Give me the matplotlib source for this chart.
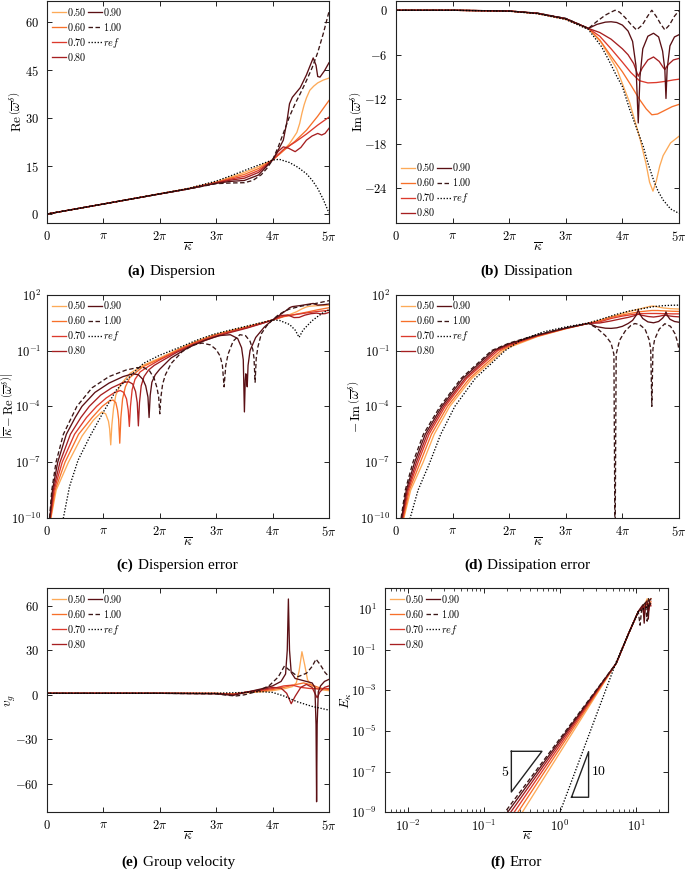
import numpy as np
import matplotlib
matplotlib.use("Agg")
import matplotlib.pyplot as plt
from matplotlib.ticker import FixedLocator, NullLocator, NullFormatter, LogLocator

plt.rcParams['mathtext.fontset'] = 'cm'
plt.rcParams['font.family'] = ['Liberation Serif', 'DejaVu Serif']
plt.rcParams['axes.linewidth'] = 0.8

# ---------------- data ----------------
SCHEMES = ['0.50', '0.60', '0.70', '0.80', '0.90', '1.00']
COLORS = ['#fdaa58', '#f7702a', '#dc3a2c', '#a61f21', '#5a0f14', '#3a1616']
PI_TICKS = [0, 1, 2, 3, 4, 5]
PI_LABELS = ['$0$', r'$\pi$', r'$2\pi$', r'$3\pi$', r'$4\pi$', r'$5\pi$']

# (a) Re(omega), x in units of pi
A_X_050 = [0, 1, 2, 2.5, 3, 3.25, 3.5, 3.75, 4, 4.15, 4.3, 4.43, 4.48, 4.52, 4.56, 4.6, 4.66, 4.73, 4.8, 4.9, 5]
A_Y_050 = [0, 3.14, 6.33, 7.95, 10.0, 11.5, 13.0, 14.8, 16.9, 19.2, 22.0, 25.5, 28.3, 31.5, 34.2, 36.3, 38.7, 40.0, 41.0, 41.9, 42.5]
A_X_060 = [0, 1, 2, 2.5, 3, 3.25, 3.5, 3.75, 4, 4.2, 4.4, 4.6, 4.8, 5]
A_Y_060 = [0, 3.14, 6.31, 7.9, 9.9, 11.2, 12.4, 14.2, 16.9, 19.9, 22.8, 26.2, 30.6, 35.5]
A_X_070 = [0, 1, 2, 2.5, 3, 3.25, 3.5, 3.75, 4, 4.2, 4.4, 4.6, 4.8, 5]
A_Y_070 = [0, 3.14, 6.3, 7.87, 9.8, 10.9, 11.8, 13.6, 16.9, 20.3, 22.5, 25.0, 27.8, 30.3]
A_X_080 = [0, 1, 2, 2.5, 3, 3.25, 3.5, 3.75, 4, 4.1, 4.19, 4.28, 4.4, 4.5, 4.6, 4.7, 4.8, 4.87, 4.93, 5]
A_Y_080 = [0, 3.14, 6.29, 7.85, 9.7, 10.6, 11.2, 13.0, 16.9, 19.6, 21.0, 20.6, 19.5, 20.8, 23.1, 24.4, 25.2, 24.7, 25.2, 26.8]
A_X_090 = [0, 1, 2, 2.5, 3, 3.25, 3.5, 3.75, 4, 4.1, 4.19, 4.25, 4.3, 4.35, 4.49, 4.6, 4.72, 4.77, 4.8, 4.84, 4.92, 5]
A_Y_090 = [0, 3.14, 6.28, 7.83, 9.6, 10.2, 10.5, 12.2, 16.9, 20.0, 23.1, 28.5, 34.5, 36.5, 39.5, 43.5, 48.8, 46.5, 43.0, 42.8, 44.8, 47.3]
A_X_100 = [0, 1, 2, 2.5, 3, 3.25, 3.5, 3.65, 3.8, 3.9, 4, 4.1, 4.2, 4.3, 4.4, 4.5, 4.6, 4.7, 4.8, 4.9, 5]
A_Y_100 = [0, 3.14, 6.28, 7.8, 9.5, 9.7, 9.8, 10.5, 12.3, 14.3, 16.9, 21.0, 25.7, 30.5, 34.5, 38.0, 41.7, 45.7, 50.5, 56.5, 63.3]
A_X_REF = [0, 1, 2, 2.5, 3, 3.25, 3.5, 3.75, 4, 4.12, 4.3, 4.45, 4.6, 4.7, 4.8, 4.9, 5]
A_Y_REF = [0, 3.14, 6.35, 8.0, 10.3, 11.9, 13.6, 15.3, 16.9, 17.1, 16.1, 14.6, 12.6, 10.6, 8.0, 4.5, 0.3]

# (b) Im(omega)
B_X_050 = [0, 1, 2, 2.5, 3, 3.4, 3.63, 3.9, 4.13, 4.31, 4.42, 4.48, 4.54, 4.6, 4.66, 4.72, 4.85, 5]
B_Y_050 = [0, 0, -0.12, -0.44, -1.2, -2.45, -4.4, -7.9, -12.5, -17.3, -20.8, -23.2, -24.4, -23.0, -21.0, -19.6, -17.9, -17.0]
B_X_060 = [0, 1, 2, 2.5, 3, 3.4, 3.6, 3.8, 4.0, 4.15, 4.3, 4.42, 4.52, 4.62, 4.75, 4.88, 5]
B_Y_060 = [0, 0, -0.11, -0.43, -1.18, -2.45, -4.0, -6.2, -8.3, -10.1, -12.0, -13.3, -14.1, -14.0, -13.5, -13.0, -12.7]
B_X_070 = [0, 1, 2, 2.5, 3, 3.4, 3.6, 3.8, 4.0, 4.15, 4.3, 4.45, 4.6, 4.75, 4.9, 5]
B_Y_070 = [0, 0, -0.1, -0.42, -1.16, -2.45, -3.5, -5.2, -7.0, -8.4, -9.5, -9.8, -9.75, -9.6, -9.4, -9.3]
B_X_080 = [0, 1, 2, 2.5, 3, 3.4, 3.6, 3.8, 4.0, 4.1, 4.2, 4.28, 4.35, 4.45, 4.55, 4.65, 4.72, 4.75, 4.8, 4.9, 5]
B_Y_080 = [0, 0, -0.1, -0.41, -1.14, -2.45, -3.0, -3.9, -5.2, -6.0, -7.2, -8.9, -7.8, -6.7, -6.3, -6.9, -7.7, -8.0, -7.4, -6.7, -6.5]
B_X_090 = [0, 1, 2, 2.5, 3, 3.4, 3.55, 3.7, 3.8, 3.9, 4.0, 4.1, 4.18, 4.24, 4.28, 4.31, 4.36, 4.45, 4.55, 4.64, 4.71, 4.75, 4.77, 4.79, 4.84, 4.92, 5]
B_Y_090 = [0, 0, -0.1, -0.4, -1.12, -2.45, -1.9, -1.6, -1.55, -1.65, -2.0, -2.8, -4.2, -7.5, -15.2, -9.0, -5.2, -3.5, -3.1, -3.6, -5.5, -8.0, -11.9, -8.0, -4.8, -3.6, -3.3]
B_X_100 = [0, 1, 2, 2.5, 3, 3.4, 3.55, 3.7, 3.8, 3.87, 3.95, 4.05, 4.15, 4.25, 4.35, 4.45, 4.52, 4.6, 4.68, 4.75, 4.83, 4.92, 5]
B_Y_100 = [0, 0, -0.1, -0.39, -1.1, -2.45, -1.5, -0.65, -0.25, 0, -0.25, -1.0, -1.9, -2.65, -2.0, -0.75, 0, -0.85, -1.9, -2.65, -2.0, -0.8, -0.05]
B_X_REF = [0, 1, 2, 2.5, 3, 3.4, 3.5, 3.63, 3.75, 3.9, 4.0, 4.13, 4.25, 4.37, 4.45, 4.55, 4.63, 4.72, 4.85, 5]
B_Y_REF = [0, 0, -0.13, -0.47, -1.25, -2.6, -3.6, -4.9, -6.6, -8.9, -10.3, -13.4, -15.9, -18.4, -20.6, -22.9, -24.4, -25.6, -26.8, -27.4]

# (c) dispersion error, log10 values
C_X_050 = [0.042, 0.07, 0.163, 0.38, 0.62, 0.82, 0.97, 1.04, 1.09, 1.11, 1.13, 1.15, 1.18, 1.22, 1.3, 1.47, 1.7, 2.0, 2.36, 2.65, 2.95, 3.25, 3.54, 3.8, 4.0, 4.15, 4.3, 4.43, 4.52, 4.6, 4.66, 4.8, 5]
C_L_050 = [-11.5, -10, -8.5, -7, -5.6, -4.75, -4.3, -4.4, -4.8, -5.2, -6.07, -5.0, -4.1, -3.4, -2.85, -2.23, -1.8, -1.4, -0.88, -0.5, -0.17, 0.07, 0.28, 0.48, 0.64, 0.80, 0.93, 1.09, 1.24, 1.34, 1.38, 1.41, 1.43]
C_X_060 = [0.039, 0.065, 0.144, 0.32, 0.56, 0.8, 0.98, 1.1, 1.17, 1.22, 1.25, 1.27, 1.29, 1.31, 1.34, 1.39, 1.47, 1.7, 2.0, 2.36, 2.65, 2.95, 3.25, 3.54, 3.8, 4.0, 4.2, 4.4, 4.6, 4.8, 5]
C_L_060 = [-11.5, -10, -8.5, -7, -5.5, -4.6, -4.0, -3.72, -3.66, -3.8, -4.2, -4.7, -5.98, -4.6, -3.6, -2.95, -2.45, -1.87, -1.45, -0.92, -0.53, -0.2, 0.04, 0.26, 0.47, 0.64, 0.82, 0.94, 1.06, 1.19, 1.30]
C_X_070 = [0.036, 0.06, 0.127, 0.27, 0.488, 0.7, 0.88, 1.05, 1.2, 1.3, 1.36, 1.41, 1.44, 1.46, 1.48, 1.51, 1.56, 1.65, 1.8, 2.0, 2.36, 2.65, 2.95, 3.25, 3.54, 3.8, 4.0, 4.2, 4.4, 4.6, 4.8, 5]
C_L_070 = [-11.5, -10, -8.5, -7, -5.5, -4.6, -4.0, -3.55, -3.25, -3.15, -3.25, -3.6, -4.2, -5.08, -4.0, -3.1, -2.55, -2.15, -1.85, -1.5, -0.96, -0.57, -0.24, 0.01, 0.23, 0.45, 0.64, 0.85, 0.93, 1.02, 1.10, 1.16]
C_X_080 = [0.033, 0.055, 0.112, 0.23, 0.415, 0.6, 0.75, 0.95, 1.15, 1.35, 1.45, 1.52, 1.57, 1.6, 1.62, 1.64, 1.67, 1.72, 1.8, 1.9, 2.0, 2.3, 2.6, 2.95, 3.25, 3.54, 3.8, 4.0, 4.15, 4.27, 4.38, 4.47, 4.57, 4.68, 4.78, 4.86, 4.93, 5]
C_L_080 = [-11.5, -10, -8.5, -7, -5.5, -4.6, -4.0, -3.4, -3.0, -2.72, -2.68, -2.8, -3.2, -3.8, -5.05, -3.8, -2.9, -2.4, -2.05, -1.8, -1.62, -1.1, -0.68, -0.3, -0.03, 0.2, 0.44, 0.64, 0.88, 0.91, 0.77, 0.78, 0.90, 0.98, 1.01, 0.97, 0.98, 1.05]
C_X_090 = [0.03, 0.05, 0.097, 0.19, 0.343, 0.5, 0.62, 0.85, 1.1, 1.35, 1.52, 1.62, 1.7, 1.75, 1.79, 1.81, 1.83, 1.86, 1.92, 2.0, 2.2, 2.5, 2.8, 3.05, 3.25, 3.38, 3.45, 3.48, 3.5, 3.515, 3.525, 3.537, 3.55, 3.565, 3.6, 3.7, 3.85, 4.0, 4.1, 4.2, 4.25, 4.3, 4.35, 4.5, 4.72, 4.8, 4.9, 5]
C_L_090 = [-11.5, -10, -8.5, -7, -5.5, -4.6, -4.0, -3.25, -2.75, -2.4, -2.25, -2.3, -2.55, -2.9, -3.5, -4.6, -3.4, -2.7, -2.3, -2.0, -1.4, -0.85, -0.45, -0.2, -0.15, -0.35, -0.85, -1.5, -4.3, -2.6, -2.25, -2.5, -2.95, -1.8, -1.0, -0.3, 0.25, 0.65, 0.85, 1.07, 1.17, 1.30, 1.36, 1.42, 1.53, 1.44, 1.46, 1.50]
C_X_100 = [0.027, 0.045, 0.085, 0.16, 0.29, 0.53, 0.8, 1.1, 1.4, 1.6, 1.72, 1.82, 1.9, 1.95, 1.98, 2.0, 2.02, 2.05, 2.1, 2.2, 2.4, 2.6, 2.75, 2.9, 3.0, 3.07, 3.11, 3.14, 3.17, 3.21, 3.3, 3.42, 3.52, 3.6, 3.65, 3.67, 3.69, 3.71, 3.74, 3.8, 3.9, 4.0, 4.1, 4.2, 4.3, 4.5, 4.75, 5]
C_L_100 = [-11.5, -10, -8.5, -7, -5.5, -4, -3.0, -2.4, -2.05, -1.92, -1.92, -2.1, -2.5, -3.0, -3.5, -4.4, -3.5, -2.8, -2.3, -1.7, -1.05, -0.7, -0.6, -0.7, -0.95, -1.3, -1.8, -2.95, -1.8, -1.2, -0.5, -0.15, -0.2, -0.5, -0.95, -1.4, -2.7, -1.4, -0.8, -0.1, 0.35, 0.65, 0.91, 1.09, 1.23, 1.38, 1.52, 1.68]
C_X_REF = [0.2, 0.29, 0.4, 0.55, 0.76, 1.0, 1.23, 1.5, 1.71, 2.0, 2.36, 2.65, 2.95, 3.25, 3.54, 3.8, 4.0, 4.12, 4.3, 4.4, 4.47, 4.54, 4.6, 4.7, 4.8, 4.9, 5]
C_L_REF = [-11.3, -10, -8.3, -6.9, -5.62, -4.3, -3.12, -2.3, -1.69, -1.25, -0.82, -0.45, -0.13, 0.1, 0.31, 0.5, 0.64, 0.62, 0.40, 0.1, -0.29, 0.1, 0.29, 0.6, 0.83, 1.04, 1.19]

# (d) dissipation error, log10 values
D_X_050 = [0.094, 0.14, 0.26, 0.48, 0.675, 0.95, 1.34, 1.90, 2.0, 2.5, 3.0, 3.4, 3.63, 3.9, 4.13, 4.31, 4.42, 4.48, 4.54, 4.6, 4.66, 4.72, 4.85, 5]
D_L_050 = [-11.5, -10, -8.5, -7, -5.5, -4, -2.5, -1, -0.83, -0.25, 0.17, 0.46, 0.64, 0.90, 1.10, 1.24, 1.32, 1.37, 1.39, 1.36, 1.32, 1.29, 1.25, 1.23]
D_X_060 = [0.087, 0.13, 0.236, 0.43, 0.626, 0.91, 1.30, 1.85, 2.0, 2.5, 3.0, 3.4, 3.6, 3.8, 4.0, 4.15, 4.3, 4.42, 4.52, 4.62, 4.75, 4.88, 5]
D_L_060 = [-11.5, -10, -8.5, -7, -5.5, -4, -2.5, -1, -0.77, -0.23, 0.18, 0.46, 0.60, 0.79, 0.91, 1.0, 1.08, 1.12, 1.15, 1.15, 1.13, 1.11, 1.10]
D_X_070 = [0.08, 0.12, 0.216, 0.39, 0.583, 0.87, 1.25, 1.80, 2.0, 2.5, 3.0, 3.4, 3.6, 3.8, 4.0, 4.15, 4.3, 4.45, 4.6, 4.75, 4.9, 5]
D_L_070 = [-11.5, -10, -8.5, -7, -5.5, -4, -2.5, -1, -0.72, -0.21, 0.19, 0.46, 0.54, 0.72, 0.85, 0.92, 0.98, 0.99, 0.99, 0.98, 0.97, 0.97]
D_X_080 = [0.073, 0.11, 0.20, 0.36, 0.55, 0.84, 1.22, 1.76, 2.0, 2.5, 3.0, 3.4, 3.6, 3.8, 4.0, 4.1, 4.2, 4.28, 4.35, 4.45, 4.55, 4.65, 4.72, 4.75, 4.8, 4.9, 5]
D_L_080 = [-11.5, -10, -8.5, -7, -5.5, -4, -2.5, -1, -0.67, -0.19, 0.2, 0.46, 0.48, 0.59, 0.72, 0.78, 0.86, 0.95, 0.89, 0.83, 0.80, 0.84, 0.89, 0.90, 0.87, 0.83, 0.81]
D_X_090 = [0.066, 0.10, 0.182, 0.33, 0.517, 0.81, 1.18, 1.72, 2.0, 2.5, 3.0, 3.4, 3.55, 3.7, 3.8, 3.9, 4.0, 4.1, 4.18, 4.24, 4.28, 4.31, 4.36, 4.45, 4.55, 4.64, 4.71, 4.75, 4.77, 4.79, 4.84, 4.92, 5]
D_L_090 = [-11.5, -10, -8.5, -7, -5.5, -4, -2.5, -1, -0.63, -0.17, 0.21, 0.46, 0.28, 0.2, 0.19, 0.22, 0.3, 0.45, 0.62, 0.88, 1.18, 0.95, 0.72, 0.54, 0.49, 0.56, 0.74, 0.9, 1.08, 0.9, 0.68, 0.56, 0.52]
D_X_100 = [0.06, 0.09, 0.164, 0.30, 0.484, 0.78, 1.15, 1.69, 2.0, 2.5, 3.0, 3.4, 3.55, 3.7, 3.8, 3.85, 3.87, 3.89, 3.95, 4.05, 4.15, 4.22, 4.3, 4.4, 4.47, 4.5, 4.52, 4.54, 4.57, 4.65, 4.75, 4.85, 4.93, 4.98, 5.0]
D_L_100 = [-11.5, -10, -8.5, -7, -5.5, -4, -2.5, -1, -0.6, -0.15, 0.22, 0.46, 0.2, -0.2, -0.6, -1.2, -12, -1.2, -0.45, 0.05, 0.35, 0.45, 0.4, 0.15, -0.4, -0.9, -4.0, -0.9, -0.4, 0.15, 0.44, 0.3, -0.1, -0.6, -1.0]
D_X_REF = [0.17, 0.25, 0.39, 0.60, 0.79, 1.04, 1.40, 1.93, 2.2, 2.6, 3.0, 3.4, 3.63, 3.9, 4.13, 4.37, 4.55, 4.72, 4.85, 5]
D_L_REF = [-11.5, -10, -8.5, -7, -5.5, -4, -2.5, -1, -0.45, 0.0, 0.27, 0.48, 0.69, 0.95, 1.13, 1.26, 1.36, 1.41, 1.43, 1.44]

# (e) group velocity
E_X_050 = [0, 1, 2, 3, 3.3, 3.5, 3.8, 4.0, 4.2, 4.35, 4.42, 4.47, 4.52, 4.57, 4.62, 4.7, 4.8, 4.9, 5]
E_Y_050 = [1, 1, 1, 1.0, 0.7, 1.3, 2.0, 2.8, 4.0, 5.5, 8.0, 16, 29, 20, 10, 6, 4, 3.2, 2.8]
E_X_060 = [0, 1, 2, 3, 3.3, 3.5, 3.8, 4.0, 4.2, 4.4, 4.55, 4.7, 4.85, 5]
E_Y_060 = [1, 1, 1, 0.95, 0.5, 1.5, 2.5, 3.5, 5, 6.8, 8, 6.5, 4.5, 3.5]
E_X_070 = [0, 1, 2, 3, 3.3, 3.5, 3.8, 4.0, 4.2, 4.35, 4.5, 4.65, 4.8, 5]
E_Y_070 = [1, 1, 1, 0.9, 0.3, 1.6, 3, 4.2, 6, 6.5, 5, 4.3, 4, 4.2]
E_X_080 = [0, 1, 2, 3, 3.3, 3.5, 3.8, 4.0, 4.15, 4.25, 4.33, 4.4, 4.5, 4.6, 4.7, 4.75, 4.79, 4.84, 4.92, 5]
E_Y_080 = [1, 1, 1, 0.85, 0.0, 1.6, 3.5, 5.0, 4.5, 1.0, -6, -1, 5, 7, 5, 1, -2, 2, 5, 6]
E_X_090 = [0, 1, 2, 3, 3.3, 3.5, 3.8, 4.0, 4.15, 4.23, 4.26, 4.28, 4.3, 4.33, 4.4, 4.5, 4.6, 4.7, 4.75, 4.77, 4.78, 4.79, 4.81, 4.85, 4.92, 5]
E_Y_090 = [1, 1, 1, 0.7, -0.4, 1.4, 4, 6, 9, 14, 30, 64.5, 30, 15, 11, 10, 9, 8, 5, -20, -72, -20, 2, 6, 9, 10.4]
E_X_100 = [0, 1, 2, 3, 3.2, 3.35, 3.5, 3.65, 3.8, 3.95, 4.1, 4.21, 4.3, 4.45, 4.6, 4.7, 4.77, 4.85, 4.93, 5]
E_Y_100 = [1, 1, 1, 0.6, -0.3, -0.8, 0.0, 1.5, 3.5, 6.5, 12, 19.4, 16.5, 12.2, 14.5, 19, 24, 20, 15, 12.2]
E_X_REF = [0, 1, 2, 3, 3.5, 3.8, 4.0, 4.2, 4.43, 4.7, 5]
E_Y_REF = [1, 1, 1, 1.05, 1.6, 2.1, 1.6, -0.8, -4.6, -7.8, -10.3]

# (f) error vs kappa (log10 of E)
F_X_050 = [0.27, 0.32, 5.5, 8.0, 10.7, 11.5, 12.5, 13.3, 14.0, 14.6, 15.2, 15.7]
F_L_050 = [-9.45, -9.0, -1.67, -0.2, 0.87, 1.0, 1.1, 1.3, 1.5, 1.4, 1.45, 1.5]
F_X_060 = [0.24, 0.28, 5.5, 8.0, 10.7, 11.5, 12.5, 13.3, 14.0, 14.6, 15.7]
F_L_060 = [-9.45, -9.0, -1.67, -0.2, 0.87, 1.0, 1.05, 1.2, 1.3, 1.25, 1.35]
F_X_070 = [0.21, 0.25, 5.5, 8.0, 10.7, 11.5, 12.5, 13.3, 14.0, 14.6, 15.7]
F_L_070 = [-9.45, -9.0, -1.67, -0.2, 0.87, 1.0, 1.05, 1.15, 1.1, 1.2, 1.25]
F_X_080 = [0.19, 0.225, 5.5, 8.0, 10.7, 11.5, 12.2, 12.8, 13.3, 14.0, 14.6, 15.2, 15.7]
F_L_080 = [-9.45, -9.0, -1.67, -0.2, 0.87, 1.0, 1.1, 0.6, 1.2, 1.25, 0.9, 1.2, 1.15]
F_X_090 = [0.17, 0.205, 5.5, 8.0, 10.7, 11.5, 12.3, 12.8, 13.3, 14.0, 14.5, 15.0, 15.7]
F_L_090 = [-9.45, -9.0, -1.67, -0.2, 0.87, 1.05, 1.2, 0.3, 1.3, 1.4, 0.5, 1.4, 1.5]
F_X_100 = [0.155, 0.189, 5.5, 8.0, 10.7, 11.3, 11.8, 12.5, 13.3, 14.0, 14.6, 15.2, 15.7]
F_L_100 = [-9.45, -9.0, -1.67, -0.2, 0.87, 0.2, 0.9, 1.2, 1.3, 0.4, 1.5, 1.2, 1.45]
F_X_REF = [0.9, 1.0, 5.5, 8.0, 10.7, 12.5, 14.0, 15.7]
F_L_REF = [-9.45, -9.0, -1.6, -0.2, 0.87, 1.0, 1.1, 1.2]
TRI5_X = [0.23, 0.58, 0.23, 0.23]
TRI5_Y = [1e-6, 1e-6, 1e-8, 1e-6]
TRI10_X = [1.42, 2.38, 2.38, 1.42]
TRI10_Y = [5.5e-9, 5.5e-9, 9.6e-7, 5.5e-9]

# ---------------- figure ----------------
W, H = 685, 873
fig = plt.figure(figsize=(W / 100, H / 100), dpi=100)
LW = 0.95
TICK_FS = 9
LAB_FS = 9.5
LEG_FS = 7.3


def rect(l, r, t, b):
    return [l / W, 1 - b / H, (r - l) / W, (b - t) / H]


def draw(ax, xs, ys, xr, yr, log=False):
    hs = []
    for i, (x, y) in enumerate(zip(xs, ys)):
        y = np.asarray(y, float)
        if log:
            y = 10.0 ** y
        kw = dict(color=COLORS[i], lw=LW, solid_joinstyle='round')
        if i == 5:
            kw['ls'] = (0, (3.4, 1.9))
        h, = ax.plot(x, y, **kw)
        hs.append(h)
    yr = np.asarray(yr, float)
    if log:
        yr = 10.0 ** yr
    h, = ax.plot(xr, yr, color='k', lw=LW, ls=(0, (1.0, 1.3)))
    hs.append(h)
    return hs


def style(ax, ypad=6):
    ax.tick_params(which='both', direction='in', top=True, right=True, labelsize=TICK_FS)
    ax.tick_params(which='major', length=3.5, width=0.6)
    ax.tick_params(which='minor', length=2.0, width=0.5)
    ax.tick_params(axis='y', pad=ypad)
    ax.tick_params(axis='x', pad=5)
    for s in ax.spines.values():
        s.set_color('#222222')


def pi_axis(ax):
    ax.set_xlim(0, 5)
    ax.xaxis.set_major_locator(FixedLocator(PI_TICKS))
    ax.set_xticklabels(PI_LABELS)


def lin_y(ax, lo, hi, ticks):
    ax.set_ylim(lo, hi)
    ax.set_yticks(ticks)
    ax.set_yticklabels(['$%g$' % t for t in ticks])


def log_y(ax, lo, hi, exps):
    ax.set_yscale('log')
    ax.set_ylim(lo, hi)
    ax.set_yticks([10.0 ** e for e in exps])
    ax.set_yticklabels(['$10^{%d}$' % e for e in exps])
    ax.yaxis.set_minor_locator(NullLocator())


def legend(ax, hs, loc, anchor):
    labels = ['$%s$' % s for s in SCHEMES] + ['$ref$']
    ax.legend(hs, labels, loc=loc, bbox_to_anchor=anchor, ncol=2, frameon=False,
              fontsize=LEG_FS, handlelength=1.4, handletextpad=0.12, columnspacing=0.1,
              labelspacing=0.3, borderpad=0.2, borderaxespad=0.25)


def labels(ax, ylab, ylx_px, width_px, height_px, xlab_dy_px=25, yfs=LAB_FS):
    ax.text(0.5, -xlab_dy_px / height_px, r'$\overline{\kappa}$', transform=ax.transAxes,
            ha='center', va='center', fontsize=LAB_FS)
    ax.text(ylx_px / width_px, 0.5, ylab, transform=ax.transAxes, rotation=90,
            ha='center', va='center', fontsize=yfs)


# (a)
axa = fig.add_axes(rect(47, 329, 1, 223))
hs = draw(axa, [A_X_050, A_X_060, A_X_070, A_X_080, A_X_090, A_X_100],
          [A_Y_050, A_Y_060, A_Y_070, A_Y_080, A_Y_090, A_Y_100], A_X_REF, A_Y_REF)
pi_axis(axa)
lin_y(axa, -2.8, 66.6, [0, 15, 30, 45, 60])
style(axa)
legend(axa, hs, 'upper left', (0, 1))
labels(axa, r'$\mathrm{Re}\,\left(\overline{\omega}^{\delta}\right)$', -31, 282, 222)

# (b)
axb = fig.add_axes(rect(396, 679, 1, 223))
hs = draw(axb, [B_X_050, B_X_060, B_X_070, B_X_080, B_X_090, B_X_100],
          [B_Y_050, B_Y_060, B_Y_070, B_Y_080, B_Y_090, B_Y_100], B_X_REF, B_Y_REF)
pi_axis(axb)
lin_y(axb, -28.7, 1.25, [0, -6, -12, -18, -24])
style(axb)
legend(axb, hs, 'lower left', (0, 0))
labels(axb, r'$\mathrm{Im}\,\left(\overline{\omega}^{\delta}\right)$', -39, 283, 222)

# (c)
axc = fig.add_axes(rect(47, 329, 294.7, 518))
hs = draw(axc, [C_X_050, C_X_060, C_X_070, C_X_080, C_X_090, C_X_100],
          [C_L_050, C_L_060, C_L_070, C_L_080, C_L_090, C_L_100], C_X_REF, C_L_REF, log=True)
pi_axis(axc)
log_y(axc, 1e-10, 1e2, [-10, -7, -4, -1, 2])
style(axc, ypad=4)
legend(axc, hs, 'upper left', (0, 1))
labels(axc, r'$\left|\overline{\kappa}-\mathrm{Re}\,\left(\overline{\omega}^{\delta}\right)\right|$', -39, 282, 223.3, yfs=9)

# (d)
axd = fig.add_axes(rect(396, 679, 294.7, 518))
hs = draw(axd, [D_X_050, D_X_060, D_X_070, D_X_080, D_X_090, D_X_100],
          [D_L_050, D_L_060, D_L_070, D_L_080, D_L_090, D_L_100], D_X_REF, D_L_REF, log=True)
pi_axis(axd)
log_y(axd, 1e-10, 1e2, [-10, -7, -4, -1, 2])
style(axd, ypad=4)
legend(axd, hs, 'upper left', (0, 1))
labels(axd, r'$-\,\mathrm{Im}\,\left(\overline{\omega}^{\delta}\right)$', -41, 283, 223.3)

# (e)
axe = fig.add_axes(rect(47, 329, 588, 812.3))
hs = draw(axe, [E_X_050, E_X_060, E_X_070, E_X_080, E_X_090, E_X_100],
          [E_Y_050, E_Y_060, E_Y_070, E_Y_080, E_Y_090, E_Y_100], E_X_REF, E_Y_REF)
pi_axis(axe)
lin_y(axe, -79.1, 71.9, [-60, -30, 0, 30, 60])
style(axe)
legend(axe, hs, 'upper left', (0, 1))
labels(axe, r'$v_g$', -36, 282, 224.3)

# (f)
axf = fig.add_axes(rect(385, 668, 588, 812.3))
hs = draw(axf, [F_X_050, F_X_060, F_X_070, F_X_080, F_X_090, F_X_100],
          [F_L_050, F_L_060, F_L_070, F_L_080, F_L_090, F_L_100], F_X_REF, F_L_REF, log=True)
axf.set_xscale('log')
axf.set_xlim(0.00503, 26.3)
axf.set_xticks([1e-2, 1e-1, 1e0, 1e1])
axf.set_xticklabels(['$10^{-2}$', '$10^{-1}$', '$10^{0}$', '$10^{1}$'])
axf.xaxis.set_minor_locator(LogLocator(base=10, subs=np.arange(2, 10)))
axf.xaxis.set_minor_formatter(NullFormatter())
log_y(axf, 1e-9, 107, [-9, -7, -5, -3, -1, 1])
style(axf)
axf.plot(TRI5_X, TRI5_Y, color='#222222', lw=1.0)
axf.plot(TRI10_X, TRI10_Y, color='#222222', lw=1.0)
axf.text(0.19, 1e-7, '$5$', ha='center', va='center', fontsize=10)
axf.text(3.2, 1e-7, '$10$', ha='center', va='center', fontsize=10)
legend(axf, hs, 'upper left', (0, 1))
labels(axf, r'$E_{\kappa}$', -39, 283, 224.3)

# captions
renderer = fig.canvas.get_renderer()


def caption(cx, base_y, tag, text, fs=11):
    t1 = fig.text(0, 0, tag, fontsize=fs, fontweight='bold', va='baseline', ha='left')
    t2 = fig.text(0, 0, text, fontsize=fs, va='baseline', ha='left')
    w1 = t1.get_window_extent(renderer).width
    w2 = t2.get_window_extent(renderer).width
    gap = 4.5
    x0 = cx - (w1 + gap + w2) / 2
    t1.set_position((x0 / W, 1 - base_y / H))
    t2.set_position(((x0 + w1 + gap) / W, 1 - base_y / H))


caption(172, 274.5, '(a)', 'Dispersion')
caption(527, 274.5, '(b)', 'Dissipation')
caption(177, 569, '(c)', 'Dispersion error')
caption(527, 569, '(d)', 'Dissipation error')
caption(178, 866, '(e)', 'Group velocity')
caption(516, 866, '(f)', 'Error')

fig.savefig('out.png', dpi=100)
